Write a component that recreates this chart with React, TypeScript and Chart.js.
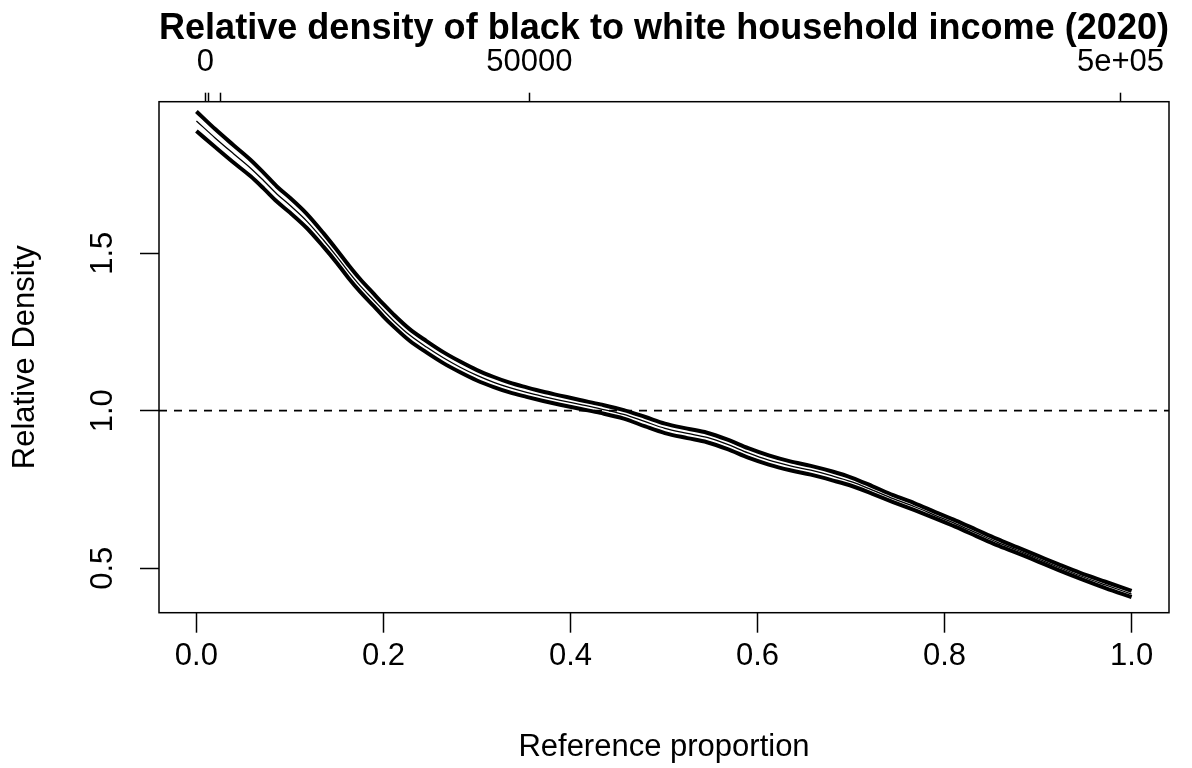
import React, { useEffect, useRef } from "react";
import { Chart, registerables } from "chart.js";

Chart.register(...registerables);

const FONT = "'Liberation Sans', Arial, Helvetica, sans-serif";

const chartTitle = "Relative density of black to white household income (2020)";
const xAxisTitle = "Reference proportion";
const yAxisTitle = "Relative Density";

const referenceProportion = [
  0, 0.02, 0.04, 0.058, 0.072, 0.086, 0.1, 0.118, 0.136, 0.15,
  0.163, 0.175, 0.19, 0.2, 0.211, 0.228, 0.246, 0.264, 0.282, 0.3,
  0.318, 0.335, 0.353, 0.371, 0.389, 0.41, 0.432, 0.457, 0.48, 0.501,
  0.525, 0.546, 0.568, 0.59, 0.612, 0.635, 0.657, 0.68, 0.701, 0.723,
  0.745, 0.768, 0.79, 0.812, 0.834, 0.856, 0.878, 0.9, 0.922, 0.945,
  0.972, 1.0,
];

const relDensityEstimate = [
  1.920, 1.866, 1.815, 1.770, 1.730, 1.688, 1.652, 1.602, 1.541, 1.490,
  1.440, 1.397, 1.350, 1.318, 1.285, 1.240, 1.202, 1.168, 1.138, 1.112,
  1.090, 1.073, 1.058, 1.045, 1.033, 1.020, 1.006, 0.988, 0.965, 0.944,
  0.928, 0.915, 0.893, 0.866, 0.843, 0.825, 0.811, 0.793, 0.774, 0.748,
  0.721, 0.695, 0.668, 0.641, 0.612, 0.583, 0.557, 0.530, 0.503, 0.476,
  0.447, 0.418,
];

const relDensityUpper = [
  1.950, 1.894, 1.842, 1.796, 1.755, 1.712, 1.676, 1.625, 1.563, 1.511,
  1.461, 1.418, 1.370, 1.338, 1.305, 1.259, 1.221, 1.186, 1.156, 1.129,
  1.107, 1.089, 1.074, 1.060, 1.048, 1.034, 1.020, 1.002, 0.980, 0.959,
  0.943, 0.930, 0.908, 0.881, 0.858, 0.839, 0.825, 0.807, 0.787, 0.760,
  0.732, 0.706, 0.678, 0.651, 0.622, 0.593, 0.566, 0.539, 0.512, 0.485,
  0.457, 0.428,
];

const relDensityLower = [
  1.888, 1.837, 1.787, 1.744, 1.705, 1.664, 1.629, 1.580, 1.520, 1.470,
  1.420, 1.378, 1.331, 1.299, 1.267, 1.222, 1.185, 1.151, 1.122, 1.096,
  1.075, 1.058, 1.044, 1.031, 1.019, 1.006, 0.993, 0.975, 0.950, 0.929,
  0.913, 0.900, 0.878, 0.851, 0.829, 0.811, 0.797, 0.779, 0.761, 0.736,
  0.710, 0.684, 0.658, 0.631, 0.602, 0.573, 0.548, 0.521, 0.494, 0.467,
  0.437, 0.408,
];

const xTickValues = [0, 0.2, 0.4, 0.6, 0.8, 1.0];
const xTickLabels = ["0.0", "0.2", "0.4", "0.6", "0.8", "1.0"];
const yTickValues = [0.5, 1.0, 1.5];
const yTickLabels = ["0.5", "1.0", "1.5"];
const topTickValues = [0.0096, 0.0132, 0.0256, 0.3561, 0.9882];
const topTickLabels = ["0", "", "", "50000", "5e+05"];
const referenceLevel = 1;

const X_MIN = -0.04;
const X_MAX = 1.04;
const Y_MIN = 0.3587;
const Y_MAX = 1.981;

const TITLE_SIZE = 37;
const TITLE_LINE_HEIGHT = 1.0;
const TITLE_PAD_TOP = 10;
const TITLE_H = TITLE_PAD_TOP + TITLE_SIZE * TITLE_LINE_HEIGHT;
const PLOT_TOP = 101.7;
const PLOT_BOTTOM = 612.7;
const PLOT_LEFT = 159;
const CANVAS_W = 1192;
const CANVAS_H = 768;

const toPoints = (ys: number[]) =>
  referenceProportion.map((x, i) => ({ x, y: ys[i] }));

const plotBox = {
  id: "plotBox",
  afterDatasetsDraw(chart: any) {
    const { ctx, chartArea } = chart;
    const { left, top, right, bottom } = chartArea;
    ctx.save();
    ctx.strokeStyle = "#000";
    ctx.lineWidth = 1.5;
    ctx.strokeRect(left, top, right - left, bottom - top);
    ctx.restore();
  },
};

export default function App() {
  const ref = useRef<HTMLCanvasElement | null>(null);

  useEffect(() => {
    if (!ref.current) return;
    const axisFont = { family: FONT, size: 31 };
    const chart = new Chart(ref.current, {
      type: "line",
      data: {
        datasets: [
          {
            label: "reference",
            data: [
              { x: X_MIN, y: referenceLevel },
              { x: X_MAX, y: referenceLevel },
            ],
            borderColor: "#000",
            borderWidth: 1.8,
            borderDash: [8, 7],
            pointRadius: 0,
            tension: 0,
          },
          {
            label: "upper",
            data: toPoints(relDensityUpper),
            borderColor: "#000",
            borderWidth: 4,
            pointRadius: 0,
            cubicInterpolationMode: "monotone",
          },
          {
            label: "lower",
            data: toPoints(relDensityLower),
            borderColor: "#000",
            borderWidth: 4,
            pointRadius: 0,
            cubicInterpolationMode: "monotone",
          },
          {
            label: "estimate",
            data: toPoints(relDensityEstimate),
            borderColor: "#000",
            borderWidth: 1.3,
            pointRadius: 0,
            cubicInterpolationMode: "monotone",
          },
        ],
      },
      options: {
        animation: false,
        responsive: false,
        devicePixelRatio: 1,
        events: [],
        layout: { padding: { left: 0, right: CANVAS_W - 1169, top: 0, bottom: 0 } },
        plugins: {
          legend: { display: false },
          tooltip: { enabled: false },
          title: {
            display: true,
            text: chartTitle,
            fullSize: false,
            color: "#000",
            font: { family: FONT, size: TITLE_SIZE, weight: "bold", lineHeight: TITLE_LINE_HEIGHT },
            padding: { top: TITLE_PAD_TOP, bottom: 0 },
          },
        },
        scales: {
          x: {
            type: "linear",
            position: "bottom",
            min: X_MIN,
            max: X_MAX,
            afterBuildTicks: (s: any) => {
              s.ticks = xTickValues.map((v) => ({ value: v }));
            },
            afterFit: (s: any) => {
              s.height = CANVAS_H - PLOT_BOTTOM;
              s.paddingLeft = 0;
              s.paddingRight = 0;
            },
            ticks: {
              autoSkip: false,
              maxRotation: 0,
              minRotation: 0,
              padding: 5.4,
              color: "#000",
              font: axisFont,
              callback: (_v: any, i: number) => xTickLabels[i],
            },
            grid: {
              drawOnChartArea: false,
              drawTicks: true,
              tickLength: 20,
              tickWidth: 1.5,
              tickColor: "#000",
            },
            border: { display: false },
            title: {
              display: true,
              text: xAxisTitle,
              color: "#000",
              font: axisFont,
              padding: { top: 0, bottom: 1.5 },
            },
          },
          x2: {
            type: "linear",
            position: "top",
            min: X_MIN,
            max: X_MAX,
            afterBuildTicks: (s: any) => {
              s.ticks = topTickValues.map((v) => ({ value: v }));
            },
            afterFit: (s: any) => {
              s.height = PLOT_TOP - TITLE_H;
              s.paddingLeft = 0;
              s.paddingRight = 0;
            },
            ticks: {
              autoSkip: false,
              maxRotation: 0,
              minRotation: 0,
              padding: 11.8,
              color: "#000",
              font: axisFont,
              callback: (_v: any, i: number) => topTickLabels[i],
            },
            grid: {
              drawOnChartArea: false,
              drawTicks: true,
              tickLength: 9,
              tickWidth: 1.5,
              tickColor: "#000",
            },
            border: { display: false },
          },
          y: {
            type: "linear",
            position: "left",
            min: Y_MIN,
            max: Y_MAX,
            afterBuildTicks: (s: any) => {
              s.ticks = yTickValues.map((v) => ({ value: v }));
            },
            afterFit: (s: any) => {
              s.width = PLOT_LEFT;
              s.paddingTop = 0;
              s.paddingBottom = 0;
            },
            ticks: {
              autoSkip: false,
              minRotation: 90,
              maxRotation: 90,
              crossAlign: "center",
              padding: 15,
              color: "#000",
              font: axisFont,
              callback: (_v: any, i: number) => yTickLabels[i],
            },
            grid: {
              drawOnChartArea: false,
              drawTicks: true,
              tickLength: 19,
              tickWidth: 1.5,
              tickColor: "#000",
            },
            border: { display: false },
            title: {
              display: true,
              text: yAxisTitle,
              color: "#000",
              font: axisFont,
              padding: { top: 6.7, bottom: 0 },
            },
          },
        },
      },
      plugins: [plotBox],
    } as any);
    return () => chart.destroy();
  }, []);

  return (
    <div
      style={{
        position: "fixed",
        left: 0,
        top: 0,
        width: CANVAS_W,
        height: CANVAS_H,
        background: "#fff",
      }}
    >
      <canvas ref={ref} width={CANVAS_W} height={CANVAS_H} style={{ display: "block" }} />
    </div>
  );
}
